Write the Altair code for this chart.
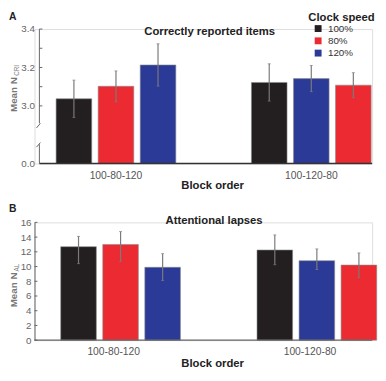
import altair as alt
import pandas as pd

FONT = "Liberation Sans"

groups = ["100-80-120", "100-120-80"]
speeds = ["100%", "80%", "120%"]
colors = ["#231f20", "#ec2a32", "#2b3a97"]
order_g1 = ["100%", "80%", "120%"]
order_g2 = ["100%", "120%", "80%"]

# Panel A: correctly reported items (mean, half error bar)
cri_mean_g1 = [3.037, 3.102, 3.213]
cri_mean_g2 = [3.122, 3.142, 3.108]
cri_err_g1 = [0.097, 0.080, 0.110]
cri_err_g2 = [0.097, 0.068, 0.065]

# Panel B: attentional lapses (mean, error bar ends)
al_mean_g1 = [12.7, 13.0, 9.9]
al_mean_g2 = [12.25, 10.8, 10.2]
al_lo_g1 = [10.4, 10.7, 8.1]
al_lo_g2 = [10.25, 9.6, 8.5]
al_hi_g1 = [14.1, 14.75, 11.75]
al_hi_g2 = [14.3, 12.4, 11.85]

a_ticks = [3.0, 3.1, 3.2, 3.3, 3.4]
a_labels = [2.7, 3.0, 3.2, 3.4]
b_ticks = [0, 2, 4, 6, 8, 10, 12, 14, 16]

rowsA, rowsB = [], []
for g, order, m, e in [(groups[0], order_g1, cri_mean_g1, cri_err_g1),
                       (groups[1], order_g2, cri_mean_g2, cri_err_g2)]:
    for i, s in enumerate(order):
        rowsA.append({"group": g, "slot": i + 1, "speed": s, "mean": m[i],
                      "lo": m[i] - e[i], "hi": m[i] + e[i]})
for g, order, m, lo, hi in [(groups[0], order_g1, al_mean_g1, al_lo_g1, al_hi_g1),
                            (groups[1], order_g2, al_mean_g2, al_lo_g2, al_hi_g2)]:
    for i, s in enumerate(order):
        rowsB.append({"group": g, "slot": i + 1, "speed": s, "mean": m[i],
                      "lo": lo[i], "hi": hi[i]})
dfA = pd.DataFrame(rowsA)
dfB = pd.DataFrame(rowsB)

ERR = "#7a7a7a"
HA, HB = 137, 120


def txt(s, x, y, size, weight="normal", color="#222", angle=0, align="left", baseline="alphabetic"):
    return alt.Chart(pd.DataFrame({"t": [s]})).mark_text(
        fontSize=size, fontWeight=weight, color=color, angle=angle,
        align=align, baseline=baseline, font=FONT
    ).encode(x=alt.value(x), y=alt.value(y), text="t:N")


def panel(df, ymin, ymax, xpad, offpad, yaxis, title_y, legend):
    xaxis = alt.Axis(title="Block order", labelAngle=0, ticks=False, domain=False,
                     labelPadding=7, labelFontSize=10.5, labelColor="#555",
                     titleFontSize=11.5, titleFontWeight="bold", titleColor="#222",
                     titleX=181, titleY=title_y, titleBaseline="alphabetic", titleAlign="center")
    x = alt.X("group:N", sort=groups, scale=alt.Scale(**xpad), axis=xaxis)
    xo = alt.XOffset("slot:O", scale=alt.Scale(paddingInner=offpad, paddingOuter=0))
    yscale = alt.Scale(domain=[ymin, ymax], nice=False, zero=False)
    color = alt.Color("speed:N", scale=alt.Scale(domain=speeds, range=colors), legend=legend)
    base = alt.Chart(df)
    bars = base.mark_bar(stroke="#8a8a8a", strokeWidth=0.6).encode(
        x=x, xOffset=xo,
        y=alt.Y("mean:Q", scale=yscale, axis=yaxis, title=None),
        y2=alt.datum(ymin), color=color)
    err = base.mark_rule(color=ERR, strokeWidth=1.2).encode(
        x=x, xOffset=xo, y=alt.Y("lo:Q", scale=yscale, axis=yaxis, title=None), y2="hi:Q")
    cap1 = base.mark_tick(color=ERR, thickness=1, size=3).encode(
        x=x, xOffset=xo, y=alt.Y("lo:Q", scale=yscale, axis=yaxis, title=None))
    cap2 = base.mark_tick(color=ERR, thickness=1, size=3).encode(
        x=x, xOffset=xo, y=alt.Y("hi:Q", scale=yscale, axis=yaxis, title=None))
    return [bars, err, cap1, cap2], yscale


# ---------- Panel A ----------
yaxisA = alt.Axis(values=a_labels, ticks=False, domain=False, grid=False, labelPadding=0,
                  labelFontSize=10, labelColor="#666",
                  labelExpr="datum.value < 2.8 ? '0.0' : format(datum.value, '.1f')")
legA = alt.Legend(title="Clock speed", orient="none", legendX=279, legendY=-17,
                  titleFontSize=11.5, titleFontWeight="bold", titleColor="#222",
                  labelFontSize=10, labelColor="#333", symbolType="square", symbolSize=49,
                  symbolStrokeWidth=0, symbolOffset=5, labelOffset=5, titlePadding=0,
                  rowPadding=2.5, padding=0,
                  labelExpr="datum.label == '80%' ? '\u00a0\u00a080%' : datum.label")
layersA, ysA = panel(dfA, 2.7, 3.4,
                     dict(paddingInner=0.387, paddingOuter=0.0578, align=0.957),
                     0.153, yaxisA, 25, legA)


def yA(f):
    return alt.Y(f, scale=ysA, axis=yaxisA, title=None)


segA = alt.Chart(pd.DataFrame({"y": [2.909, 2.7], "y2": [3.4, 2.8]})).mark_rule(
    color="#666", strokeWidth=1).encode(x=alt.value(5), y=yA("y:Q"), y2="y2:Q")
slashA = alt.Chart(pd.DataFrame({"y": [2.885, 2.785], "y2": [2.909, 2.809]})).mark_rule(
    color="#666", strokeWidth=1).encode(x=alt.value(2), x2=alt.value(6), y=yA("y:Q"), y2="y2:Q")
tickA = alt.Chart(pd.DataFrame({"y": a_ticks})).mark_rule(color="#666", strokeWidth=1).encode(
    x=alt.value(5), x2=alt.value(8), y=yA("y:Q"))
baseA = alt.Chart(pd.DataFrame({"y": [2.7]})).mark_rule(color="#333", strokeWidth=1.3).encode(
    x=alt.value(5), x2=alt.value(344), y=yA("y:Q"))

chartA = alt.layer(
    *layersA, segA, slashA, tickA, baseA,
    txt("A", -26, -9.5, 10.5, "bold"),
    txt("Correctly reported items", 178.5, 5.7, 11.5, "bold", align="center"),
    txt("Mean N", -18, 84.5, 10, "bold", "#777", angle=270),
    txt("CRI", -15.5, 47.7, 6.5, "normal", "#777", angle=270),
).properties(width=344, height=HA)

# ---------- Panel B ----------
yaxisB = alt.Axis(values=b_ticks, ticks=False, domain=True, domainColor="#666", grid=False,
                  labelPadding=3.5, labelFontSize=10, labelColor="#666", format="d")
layersB, ysB = panel(dfB, 0, 16,
                     dict(paddingInner=0.46, paddingOuter=0.09, align=0.742),
                     0.158, yaxisB, 27, None)


def yB(f):
    return alt.Y(f, scale=ysB, axis=yaxisB, title=None)


tickB = alt.Chart(pd.DataFrame({"y": b_ticks})).mark_rule(color="#666", strokeWidth=1).encode(
    x=alt.value(0), x2=alt.value(3), y=yB("y:Q"))
baseB = alt.Chart(pd.DataFrame({"y": [0]})).mark_rule(color="#666", strokeWidth=1.3).encode(
    x=alt.value(0), x2=alt.value(344), y=yB("y:Q"))

chartB = alt.layer(
    *layersB, tickB, baseB,
    txt("B", -26, -11, 10.5, "bold"),
    txt("Attentional lapses", 183, 1.5, 11.5, "bold", align="center"),
    txt("Mean N", -18, 86.5, 10, "bold", "#777", angle=270),
    txt("AL", -15.5, 50, 6.5, "normal", "#777", angle=270),
).properties(width=344, height=HB)

chart = alt.vconcat(chartA, chartB, spacing=12).resolve_scale(color="independent").properties(
    padding=0
).configure_view(stroke=None).configure(font=FONT)

chart.save("out.html", embed_options={"renderer": "svg", "actions": False})
